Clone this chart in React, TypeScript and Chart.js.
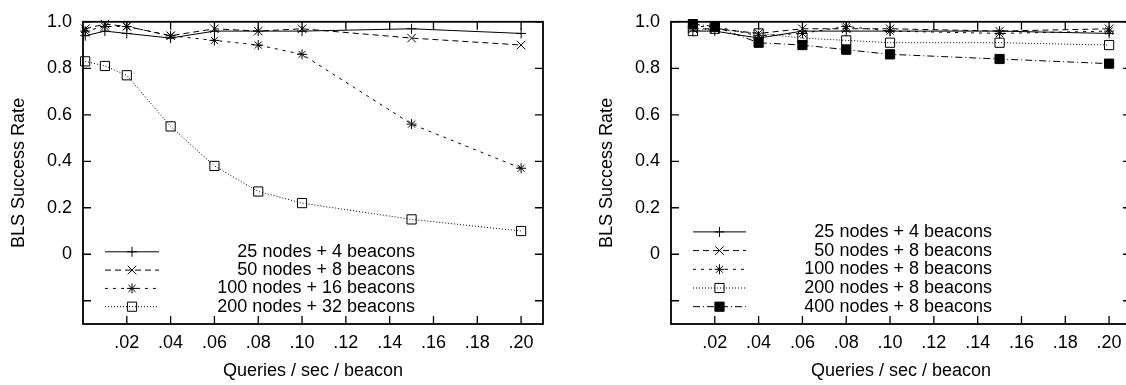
import React, { useEffect, useRef } from 'react';
import { Chart, registerables } from 'chart.js';
import { drawPoint } from 'chart.js/helpers';

Chart.register(...registerables);

// ---- data ----
const xLeft = [0.001, 0.01, 0.02, 0.04, 0.06, 0.08, 0.10, 0.15, 0.20];
const left25 = [0.94, 0.96, 0.95, 0.93, 0.96, 0.96, 0.96, 0.97, 0.95];
const left50 = [0.97, 0.99, 0.98, 0.94, 0.97, 0.96, 0.97, 0.93, 0.90];
const left100 = [0.96, 0.98, 0.98, 0.94, 0.92, 0.90, 0.86, 0.56, 0.37];
const left200 = [0.83, 0.81, 0.77, 0.55, 0.38, 0.27, 0.22, 0.15, 0.10];
const leftLabels = [
  '25 nodes + 4 beacons',
  '50 nodes + 8 beacons',
  '100 nodes + 16 beacons',
  '200 nodes + 32 beacons',
];

const xRight = [0.01, 0.02, 0.04, 0.06, 0.08, 0.10, 0.15, 0.20];
const right25 = [0.96, 0.96, 0.93, 0.96, 0.96, 0.96, 0.96, 0.95];
const right50 = [0.97, 0.97, 0.95, 0.97, 0.97, 0.97, 0.96, 0.97];
const right100 = [0.98, 0.98, 0.94, 0.95, 0.98, 0.96, 0.95, 0.96];
const right200 = [0.96, 0.97, 0.95, 0.93, 0.92, 0.91, 0.91, 0.90];
const right400 = [0.99, 0.98, 0.91, 0.90, 0.88, 0.86, 0.84, 0.82];
const rightLabels = [
  '25 nodes + 4 beacons',
  '50 nodes + 8 beacons',
  '100 nodes + 8 beacons',
  '200 nodes + 8 beacons',
  '400 nodes + 8 beacons',
];

const xTicks = [0.02, 0.04, 0.06, 0.08, 0.10, 0.12, 0.14, 0.16, 0.18, 0.20];
const yTicks = [-0.2, 0, 0.2, 0.4, 0.6, 0.8, 1.0];
const xTitle = 'Queries / sec / beacon';
const yTitle = 'BLS Success Rate';

// ---- styles ----
const STYLES = [
  { dash: [], point: 'cross', radius: 5, fill: 'rgba(0,0,0,0)' },
  { dash: [6, 4], point: 'crossRot', radius: 6, fill: 'rgba(0,0,0,0)' },
  { dash: [3, 5], point: 'star', radius: 5, fill: 'rgba(0,0,0,0)' },
  { dash: [1, 2], point: 'rect', radius: 6.5, fill: 'rgba(0,0,0,0)' },
  { dash: [7, 3, 1, 3], point: 'rect', radius: 6.5, fill: '#000' },
];

const FONT = '"Liberation Sans", Arial, Helvetica, sans-serif';

const frameTicks = {
  id: 'frameTicks',
  afterDraw(chart: any) {
    const { ctx, chartArea } = chart;
    const { left, right, top, bottom } = chartArea;
    const xs = chart.scales.x;
    const ys = chart.scales.y;
    const L = 8;
    ctx.save();
    ctx.strokeStyle = '#000';
    ctx.setLineDash([]);
    ctx.lineWidth = 1.3;
    ctx.beginPath();
    xTicks.forEach((v) => {
      const px = xs.getPixelForValue(v);
      ctx.moveTo(px, bottom);
      ctx.lineTo(px, bottom - L);
      ctx.moveTo(px, top);
      ctx.lineTo(px, top + L);
    });
    yTicks.forEach((v) => {
      const py = ys.getPixelForValue(v);
      ctx.moveTo(left, py);
      ctx.lineTo(left + L, py);
      ctx.moveTo(right, py);
      ctx.lineTo(right - L, py);
    });
    ctx.stroke();
    ctx.lineWidth = 1.8;
    ctx.strokeRect(left, top, right - left, bottom - top);
    ctx.restore();
  },
};

const gpLegend = {
  id: 'gpLegend',
  afterDraw(chart: any, _args: any, opts: any) {
    const { ctx, chartArea } = chart;
    const dsets = chart.data.datasets;
    const n = dsets.length;
    ctx.save();
    ctx.font = `18px ${FONT}`;
    ctx.textAlign = 'right';
    ctx.textBaseline = 'middle';
    dsets.forEach((ds: any, i: number) => {
      const y = chartArea.bottom - opts.bottomOffset - (n - 1 - i) * opts.rowGap;
      const x0 = chartArea.left + opts.sampleStart;
      const x1 = chartArea.left + opts.sampleEnd;
      ctx.strokeStyle = '#000';
      ctx.lineWidth = 1;
      ctx.setLineDash(ds.borderDash || []);
      ctx.beginPath();
      ctx.moveTo(x0, y);
      ctx.lineTo(x1, y);
      ctx.stroke();
      ctx.setLineDash([]);
      ctx.fillStyle = ds.pointBackgroundColor;
      ctx.strokeStyle = '#000';
      drawPoint(
        ctx,
        { pointStyle: ds.pointStyle, radius: ds.pointRadius, rotation: 0, borderWidth: 1 } as any,
        (x0 + x1) / 2,
        y
      );
      ctx.fillStyle = '#000';
      ctx.fillText(ds.label, chartArea.left + opts.textRight, y);
    });
    ctx.restore();
  },
};

function makeDatasets(xs: number[], series: number[][], labels: string[]) {
  return series.map((ys, i) => {
    const st = STYLES[i];
    return {
      label: labels[i],
      data: xs.map((x, j) => ({ x, y: ys[j] })),
      borderColor: '#000',
      borderWidth: 1,
      borderDash: st.dash,
      pointStyle: st.point,
      pointRadius: st.radius,
      pointBorderWidth: 1,
      pointBorderColor: '#000',
      pointBackgroundColor: st.fill,
      tension: 0,
      fill: false,
      clip: false,
    };
  });
}

function makeConfig(datasets: any[], legendOpts: any): any {
  return {
    type: 'line',
    data: { datasets },
    plugins: [frameTicks, gpLegend],
    options: {
      responsive: false,
      animation: false,
      events: [],
      layout: { padding: { top: 10, left: 0, right: 20, bottom: 0 } },
      plugins: {
        legend: { display: false },
        tooltip: { enabled: false },
        gpLegend: legendOpts,
      },
      scales: {
        x: {
          type: 'linear',
          min: 0,
          max: 0.21,
          grid: { display: false, drawTicks: false },
          border: { display: false },
          afterBuildTicks: (axis: any) => {
            axis.ticks = xTicks.map((value) => ({ value }));
          },
          afterFit: (axis: any) => {
            axis.height = 61;
          },
          ticks: {
            color: '#000',
            padding: 8,
            maxRotation: 0,
            autoSkip: false,
            font: { family: FONT, size: 18 },
            callback: (v: any) => Number(v).toFixed(2).replace(/^0/, ''),
          },
          title: {
            display: true,
            text: xTitle,
            color: '#000',
            font: { family: FONT, size: 18 },
            padding: { top: 0, bottom: 3 },
          },
        },
        y: {
          type: 'linear',
          min: -0.3,
          max: 1.0,
          grid: { display: false, drawTicks: false },
          border: { display: false },
          afterBuildTicks: (axis: any) => {
            axis.ticks = yTicks.map((value) => ({ value }));
          },
          afterFit: (axis: any) => {
            axis.width = 83;
          },
          ticks: {
            color: '#000',
            padding: 11,
            autoSkip: false,
            font: { family: FONT, size: 18 },
            callback: (v: any) => {
              const n = Number(v);
              if (n < -1e-9) return '';
              if (Math.abs(n) < 1e-9) return '0';
              return n.toFixed(1);
            },
          },
          title: {
            display: true,
            text: yTitle,
            color: '#000',
            font: { family: FONT, size: 18 },
            padding: { top: 8, bottom: 0 },
          },
        },
      },
    },
  };
}

function ChartCanvas({ config, left }: { config: () => any; left: number }) {
  const ref = useRef<HTMLCanvasElement | null>(null);
  useEffect(() => {
    if (!ref.current) return;
    const chart = new Chart(ref.current, config());
    return () => chart.destroy();
  }, []);
  return (
    <canvas
      ref={ref}
      width={563}
      height={385}
      style={{ position: 'absolute', left, top: 0, width: 563, height: 385 }}
    />
  );
}

export default function App() {
  const leftConfig = () =>
    makeConfig(makeDatasets(xLeft, [left25, left50, left100, left200], leftLabels), {
      sampleStart: 22,
      sampleEnd: 76,
      textRight: 332,
      bottomOffset: 17.3,
      rowGap: 18.3,
    });
  const rightConfig = () =>
    makeConfig(
      makeDatasets(xRight, [right25, right50, right100, right200, right400], rightLabels),
      {
        sampleStart: 22,
        sampleEnd: 75,
        textRight: 321,
        bottomOffset: 17.3,
        rowGap: 18.7,
      }
    );
  return (
    <div
      style={{
        position: 'fixed',
        left: 0,
        top: 0,
        width: 1126,
        height: 385,
        overflow: 'hidden',
        background: '#fff',
      }}
    >
      <ChartCanvas config={leftConfig} left={0} />
      <ChartCanvas config={rightConfig} left={588} />
    </div>
  );
}
